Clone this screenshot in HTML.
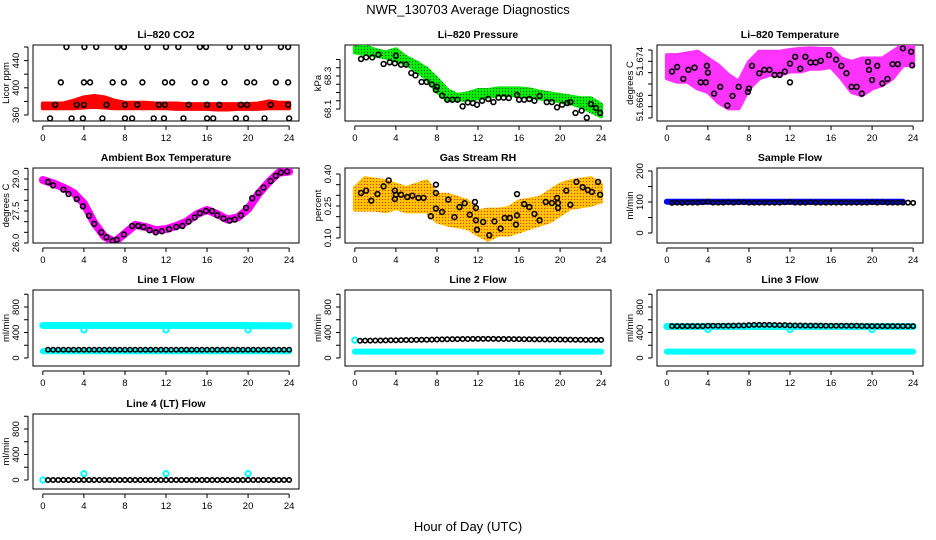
<!DOCTYPE html>
<html><head><meta charset="utf-8">
<style>
html,body{margin:0;padding:0;background:#fff;}
svg{display:block;font-family:"Liberation Sans",sans-serif;}
</style></head>
<body>
<svg id="chart" width="936" height="540" viewBox="0 0 936 540" xmlns="http://www.w3.org/2000/svg">
<defs>
<pattern id="pGreen" width="3" height="3" patternUnits="userSpaceOnUse"><rect width="3" height="3" fill="#00ee00"/><rect x="1" y="1" width="1" height="1" fill="#114411"/></pattern>
<pattern id="pOrange" width="3" height="3" patternUnits="userSpaceOnUse"><rect width="3" height="3" fill="#ffc400"/><rect x="1" y="1" width="1" height="1" fill="#ff2200"/></pattern>
</defs>
<text x="468" y="14" text-anchor="middle" font-size="13">NWR_130703  Average Diagnostics</text>
<text x="468" y="531" text-anchor="middle" font-size="13">Hour of Day (UTC)</text>
</svg>
<script>
// ---- shared time arrays ----
const hours = [0,1,2,3,4,5,6,7,8,9,10,11,12,13,14,15,16,17,18,19,20,21,22,23,24];
const halfHours = [0.5,1,1.5,2,2.5,3,3.5,4,4.5,5,5.5,6,6.5,7,7.5,8,8.5,9,9.5,10,10.5,11,11.5,12,12.5,13,13.5,14,14.5,15,15.5,16,16.5,17,17.5,18,18.5,19,19.5,20,20.5,21,21.5,22,22.5,23,23.5,24];
const xTicks = [0,4,8,12,16,20,24];

// ---- CO2 ----
const co2T = [2.3,4.05,5.2,7.3,7.9,10.2,12.0,13.2,15.3,15.9,18.2,19.9,21.1,23.2,23.9, 1.75,4.0,4.6,6.8,7.9,9.7,11.9,12.6,14.8,15.9,17.7,19.9,20.6,22.7,23.9, 1.2,3.3,4.0,6.2,8.0,9.2,11.3,11.9,14.2,16.0,17.2,19.3,19.9,22.2,23.9, 0.7,2.8,3.9,5.8,8.0,8.7,10.8,11.8,13.7,16.0,16.6,18.8,19.8,21.6,24.0];
const co2V = [460,460,460,460,460,460,460,460,460,460,460,460,460,460,460, 408,408,408,408,408,408,408,408,408,408,408,408,408,408,408, 375,375,375,375,375,375,375,375,375,375,375,375,375,375,375, 355,355,355,355,355,355,355,355,355,355,355,355,355,355,355];
const co2Hi = [377,377,377,381,386,388,386,381,378,378,378,377,377,377,376,376,376,376,376,376,376,377,380,378,378];
const co2Lo = [370,370,370,370,371,372,371,370,370,370,370,370,370,369,369,369,369,368,368,369,369,369,370,370,370];

// ---- Pressure ----
const presT = [0.6,1.1,1.7,2.3,2.8,3.4,3.9,4.0,4.5,5.0,5.5,5.9,6.5,7.0,7.5,7.9,8.0,8.5,9.0,9.5,10.0,10.5,11.0,11.5,11.9,12.4,13.0,13.5,14.0,14.5,15.0,15.8,16.0,16.5,17.0,17.5,18.0,18.7,19.2,19.7,20.2,20.7,21.0,21.5,22.1,22.6,23.0,23.5,23.9];
const presV = [68.403,68.413,68.413,68.429,68.373,68.383,68.377,68.423,68.369,68.369,68.318,68.304,68.264,68.264,68.249,68.215,68.235,68.181,68.156,68.156,68.156,68.116,68.140,68.136,68.126,68.150,68.161,68.142,68.169,68.169,68.167,68.185,68.156,68.156,68.161,68.150,68.179,68.142,68.142,68.110,68.126,68.136,68.142,68.076,68.090,68.047,68.130,68.106,68.076];
const presHi = [68.472,68.478,68.458,68.443,68.462,68.413,68.383,68.344,68.284,68.215,68.185,68.195,68.215,68.215,68.225,68.225,68.225,68.219,68.205,68.195,68.185,68.175,68.165,68.165,68.126];
const presLo = [68.443,68.433,68.423,68.413,68.393,68.373,68.334,68.284,68.205,68.156,68.156,68.156,68.165,68.175,68.185,68.185,68.181,68.175,68.165,68.156,68.146,68.136,68.116,68.086,68.056];

// ---- Li-820 Temperature ----
const tempT = [0.5,1.0,1.6,2.1,2.7,3.3,3.8,3.9,4.0,4.6,5.2,5.9,6.4,7.0,7.9,8.0,8.3,9.0,9.5,10.0,10.5,11.0,11.5,12.0,12.0,12.5,13.0,13.5,14.0,14.5,15.0,15.8,16.5,17.0,17.5,18.0,18.5,19.0,19.6,19.7,20.0,20.5,21.0,21.5,22.0,22.5,23.0,23.8,23.9];
const tempV = [51.6722,51.6730,51.6709,51.6725,51.6729,51.6703,51.6703,51.6732,51.6720,51.6683,51.6695,51.6662,51.6679,51.6695,51.6686,51.6692,51.6732,51.6719,51.6725,51.6725,51.6716,51.6716,51.6722,51.6736,51.6703,51.6748,51.6727,51.6748,51.6738,51.6738,51.6741,51.6751,51.6743,51.6732,51.6719,51.6695,51.6695,51.6683,51.6739,51.6725,51.6707,51.6732,51.6701,51.6709,51.6735,51.6735,51.6763,51.6757,51.6733];
const tempHi = [51.6751,51.6751,51.6754,51.6757,51.6745,51.6733,51.6716,51.6704,51.6739,51.6757,51.6757,51.6757,51.6760,51.6762,51.6763,51.6762,51.6762,51.6745,51.6739,51.6745,51.6745,51.6745,51.6757,51.6769,51.6766];
const tempLo = [51.6710,51.6704,51.6704,51.6692,51.6686,51.6668,51.6657,51.6657,51.6692,51.6710,51.6716,51.6716,51.6722,51.6722,51.6727,51.6727,51.6730,51.6710,51.6686,51.6680,51.6692,51.6698,51.6710,51.6733,51.6733];

// ---- Ambient box temperature ----
const ambT = [0.5,1,2,2.5,3.3,3.9,4.5,5,5.7,6.2,6.8,7.2,7.9,8.7,9.3,9.8,10.4,11,11.6,12.3,13,13.6,14.2,14.8,15.3,15.9,16.5,17,17.6,18.2,18.7,19.3,19.8,20.4,21,21.5,22.2,22.7,23.2,23.8];
const ambV = [28.86,28.7,28.5,28.3,28.06,27.72,27.28,26.9,26.5,26.27,26.1,26.15,26.4,26.8,26.8,26.75,26.6,26.5,26.55,26.65,26.75,26.8,27.0,27.2,27.4,27.5,27.5,27.3,27.15,27.05,27.1,27.3,27.65,28.1,28.35,28.6,28.9,29.15,29.3,29.35];
const ambLine = [28.95,28.8,28.6,28.35,27.85,26.95,26.3,26.05,26.45,26.85,26.75,26.6,26.65,26.8,27.0,27.35,27.55,27.35,27.1,27.2,27.6,28.3,28.85,29.3,29.35];

// ---- Gas stream RH ----
const rhT = [0.6,1.1,1.6,2.2,2.8,3.3,3.9,3.9,4.0,4.5,5.1,5.6,6.2,6.7,7.4,7.9,7.9,7.9,8.5,9.1,9.7,10.2,10.7,11.2,11.7,11.8,11.8,11.9,12.5,13.1,13.6,14.2,14.6,15.1,15.7,15.8,15.8,16.5,17.0,17.5,18.0,18.6,19.2,19.7,19.8,19.8,20.6,21.0,21.6,22.2,22.7,23.1,23.7,23.9];
const rhV = [0.311,0.322,0.275,0.306,0.342,0.370,0.322,0.283,0.303,0.303,0.292,0.298,0.288,0.288,0.202,0.350,0.311,0.238,0.222,0.280,0.198,0.245,0.263,0.209,0.269,0.241,0.183,0.139,0.175,0.113,0.178,0.144,0.194,0.194,0.163,0.206,0.306,0.259,0.245,0.213,0.183,0.269,0.264,0.288,0.264,0.241,0.322,0.256,0.363,0.338,0.325,0.316,0.363,0.303];
const rhHi = [0.334,0.381,0.373,0.366,0.35,0.334,0.35,0.366,0.303,0.303,0.288,0.272,0.225,0.233,0.233,0.241,0.272,0.280,0.288,0.319,0.35,0.366,0.373,0.381,0.35];
const rhLo = [0.233,0.233,0.233,0.225,0.241,0.225,0.225,0.225,0.178,0.163,0.155,0.147,0.116,0.092,0.116,0.116,0.131,0.147,0.163,0.178,0.209,0.241,0.248,0.256,0.272];

// ---- Sample flow ----
const sampleBand = [101,101,101,101,101,101,101,101,101,101,101,101,101,101,101,101,101,101,101,101,101,101,101,101,101];
const sampleV = [97,98,97,98,98,98,99,101,98,98,98,99,98,99,99,98,98,98,98,98,98,98,99,100,98,98,98,99,98,98,98,98,98,98,98,98,98,98,98,99,98,99,98,98,98,98,98,97];

// ---- Line flows ----
const line1Hi = [510,510,510,510,510,510,510,510,510,510,510,510,510,510,510,510,510,510,510,510,510,505,505,505,505];
const line1Lo = [105,105,105,105,105,105,105,105,105,105,105,105,105,105,105,105,105,105,105,105,105,105,105,105,105];
const line1V = [130,130,130,130,130,130,130,130,130,130,130,130,130,130,130,130,130,130,130,130,130,130,130,130,130,130,130,130,130,130,130,130,130,130,130,130,130,130,130,130,130,130,130,130,130,130,130,130];
const line1DipT = [4,12,20];
const line1DipV = [440,440,440];
const line2Lo = [100,100,100,100,100,100,100,100,100,100,100,100,100,100,100,100,100,100,100,100,100,100,100,100,100];
const line2V = [270,272,272,274,275,276,278,278,280,282,283,285,286,287,288,290,292,294,296,296,298,298,300,300,300,300,300,298,298,298,296,296,295,294,292,292,290,290,290,290,288,288,286,286,285,285,284,284];
const line2StartT = [0];
const line2StartV = [280];
const line3Hi = [495,495,495,495,495,495,495,495,495,495,495,495,495,495,495,495,495,495,495,495,495,495,495,495,495];
const line3Lo = [100,100,100,100,100,100,100,100,100,100,100,100,100,100,100,100,100,100,100,100,100,100,100,100,100];
const line3V = [500,500,500,500,500,500,500,505,505,505,505,505,508,510,510,515,520,520,520,520,518,515,515,512,510,510,508,508,508,508,505,505,505,505,505,505,505,502,502,500,500,500,500,500,500,500,500,500];
const line3DipT = [4,12,20];
const line3DipV = [445,445,445];
const line4V = [0,0,0,0,0,0,0,0,0,0,0,0,0,0,0,0,0,0,0,0,0,0,0,0,0,0,0,0,0,0,0,0,0,0,0,0,0,0,0,0,0,0,0,0,0,0,0,0];
const line4CyanT = [0,4,12,20];
const line4CyanV = [0,100,100,100];

// ---- rendering ----
const svg = document.getElementById('chart');
const NS = 'http://www.w3.org/2000/svg';
function mk(tag, attrs, parent) {
  const e = document.createElementNS(NS, tag);
  for (const k in attrs) e.setAttribute(k, attrs[k]);
  (parent || svg).appendChild(e);
  return e;
}
const cols = [[33,299],[345,611],[657,923]];
const rows = [[45,121],[168,243],[290,366],[414,489]];

function makePanel(name, title, ylab, c, r, yref, yTicks, yLabels) {
  const x0 = cols[c][0], x1 = cols[c][1], y0 = rows[r][0], y1 = rows[r][1];
  const g = mk('g', {});
  
  
  const sx = t => x0 + (x1 - x0) * (t + 0.96) / 25.92;
  const sy = v => yref[1] + (v - yref[0]) * (yref[3] - yref[1]) / (yref[2] - yref[0]);
  const box = mk('rect', {x: x0, y: y0, width: x1 - x0, height: y1 - y0, fill: 'none', stroke: '#000', 'stroke-width': 1}, g);
  
  
  const tt = mk('text', {x: (x0 + x1) / 2, y: y0 - 7, 'text-anchor': 'middle', 'font-size': 10.5, 'font-weight': 'bold'}, g);
  tt.textContent = title;
  
  
  // x axis
  const xa = mk('g', {}, g);
  
  
  const ay = y1 + 5;
  mk('line', {x1: sx(0), x2: sx(24), y1: ay, y2: ay, stroke: '#000'}, xa);
  xTicks.forEach(t => {
    mk('line', {x1: sx(t), x2: sx(t), y1: ay, y2: ay + 4, stroke: '#000'}, xa);
    const lb = mk('text', {x: sx(t), y: ay + 15, 'text-anchor': 'middle', 'font-size': 9.5}, xa);
    lb.textContent = t;
    
    
  });
  // y axis
  const ya = mk('g', {}, g);
  
  
  const ax = x0 - 5;
  mk('line', {x1: ax, x2: ax, y1: sy(yTicks[0]), y2: sy(yTicks[yTicks.length - 1]), stroke: '#000'}, ya);
  yTicks.forEach(v => mk('line', {x1: ax - 4, x2: ax, y1: sy(v), y2: sy(v), stroke: '#000'}, ya));
  yLabels.forEach(v => {
    const lx = ax - 9, ly = sy(v);
    const lb = mk('text', {x: lx, y: ly, 'text-anchor': 'middle', 'font-size': 9.5, transform: 'rotate(-90 ' + lx + ' ' + ly + ')'}, ya);
    lb.textContent = (typeof v === 'number' && yLabels.fmt) ? v.toFixed(yLabels.fmt) : v;
    
    
  });
  const yx = x0 - 24, yy = (y0 + y1) / 2;
  const yt = mk('text', {x: yx, y: yy, 'text-anchor': 'middle', 'font-size': 9.5, transform: 'rotate(-90 ' + yx + ' ' + yy + ')'}, g);
  yt.textContent = ylab;
  
  
  const clip = 'clip-' + name;
  const cp = mk('clipPath', {id: clip}, g);
  mk('rect', {x: x0, y: y0, width: x1 - x0, height: y1 - y0}, cp);
  const plot = mk('g', {'clip-path': 'url(#' + clip + ')'}, g);
  return {sx, sy, g: plot, name};
}

function band(p, ts, hi, lo, fill, label) {
  let pts = ts.map((t, i) => p.sx(t) + ',' + p.sy(hi[i]));
  for (let i = ts.length - 1; i >= 0; i--) pts.push(p.sx(ts[i]) + ',' + p.sy(lo[i]));
  const e = mk('polygon', {points: pts.join(' '), fill: fill, stroke: fill, 'stroke-width': 4, 'stroke-linejoin': 'round'}, p.g);
  
  
}
function thick(p, ts, vs, color, w, label) {
  const e = mk('polyline', {points: ts.map((t, i) => p.sx(t) + ',' + p.sy(vs[i])).join(' '), fill: 'none', stroke: color, 'stroke-width': w, 'stroke-linecap': 'round', 'stroke-linejoin': 'round'}, p.g);
  
  
}
function pts(p, ts, vs, color, label, r, sw) {
  const gg = mk('g', {}, p.g);
  
  
  ts.forEach((t, i) => {
    const c = mk('circle', {cx: p.sx(t), cy: p.sy(vs[i]), r: r || 2.4, fill: 'none', stroke: color, 'stroke-width': sw || 1.6}, gg);
    
    
  });
}

// CO2
let p = makePanel('co2', 'Li\u2013820 CO2', 'Licor ppm', 0, 0, [360,115,460,47], [360,380,400,420,440,460], [360,400,440]);
band(p, hours, co2Hi, co2Lo, '#ff0000', 'co2-band');
pts(p, co2T, co2V, '#000', 'co2-points');
// Pressure
const presLabels = [68.1, 68.3]; presLabels.fmt = 1;
p = makePanel('pressure', 'Li\u2013820 Pressure', 'kPa', 1, 0, [68.1,109,68.3,76], [68.1,68.15,68.2,68.25,68.3,68.35,68.4], presLabels);
band(p, hours, presHi, presLo, 'url(#pGreen)', 'pressure-band');
pts(p, presT, presV, '#000', 'pressure-points');
// Temperature
const tempLabels = [51.666, 51.674]; tempLabels.fmt = 3;
p = makePanel('li820-temp', 'Li\u2013820 Temperature', 'degrees C', 2, 0, [51.664,118,51.676,50], [51.664,51.666,51.668,51.670,51.672,51.674,51.676], tempLabels);
band(p, hours, tempHi, tempLo, '#ff33ff', 'temp-band');
pts(p, tempT, tempV, '#000', 'temp-points');
// Ambient
const ambLabels = [26.0, 27.5, 29.0]; ambLabels.fmt = 1;
p = makePanel('ambient', 'Ambient Box Temperature', 'degrees C', 0, 1, [26,243,29,179], [26,26.5,27,27.5,28,28.5,29,29.5], ambLabels);
thick(p, hours, ambLine, '#ff00ff', 8, 'ambient-band');
pts(p, ambT, ambV, '#000', 'ambient-points');
// RH
const rhLabels = [0.10, 0.25, 0.40]; rhLabels.fmt = 2;
p = makePanel('rh', 'Gas Stream RH', 'percent', 1, 1, [0.10,238,0.40,174], [0.10,0.15,0.20,0.25,0.30,0.35,0.40], rhLabels);
band(p, hours, rhHi, rhLo, 'url(#pOrange)', 'rh-band');
pts(p, rhT, rhV, '#000', 'rh-points');
// Sample flow
p = makePanel('sample-flow', 'Sample Flow', 'ml/min', 2, 1, [0,233,200,171], [0,50,100,150,200], [0,100,200]);
thick(p, hours.slice(0, 24), sampleBand.slice(0, 24), '#0000ff', 6, 'sample-band');
pts(p, halfHours, sampleV, '#000', 'sample-points', 2.2);
// Line 1
const flowTicks = [0,200,400,600,800,1000];
p = makePanel('line1', 'Line 1 Flow', 'ml/min', 0, 2, [0,358,800,307], flowTicks, [0,400,800]);
thick(p, hours, line1Hi, '#00ffff', 7, 'cyan-high');
thick(p, hours, line1Lo, '#00ffff', 6, 'cyan-low');
pts(p, line1DipT, line1DipV, '#00ffff', 'cyan-dips', 2.6, 2);
pts(p, halfHours, line1V, '#000', 'black-points', 2.2);
// Line 2
p = makePanel('line2', 'Line 2 Flow', 'ml/min', 1, 2, [0,358,800,307], flowTicks, [0,400,800]);
thick(p, hours, line2Lo, '#00ffff', 6, 'cyan-low');
pts(p, line2StartT, line2StartV, '#00ffff', 'cyan-start', 2.6, 2);
pts(p, halfHours, line2V, '#000', 'black-points', 2.2);
// Line 3
p = makePanel('line3', 'Line 3 Flow', 'ml/min', 2, 2, [0,358,800,307], flowTicks, [0,400,800]);
thick(p, hours, line3Hi, '#00ffff', 7, 'cyan-high');
thick(p, hours, line3Lo, '#00ffff', 6, 'cyan-low');
pts(p, line3DipT, line3DipV, '#00ffff', 'cyan-dips', 2.6, 2);
pts(p, halfHours, line3V, '#000', 'black-points', 2.2);
// Line 4
p = makePanel('line4', 'Line 4 (LT) Flow', 'ml/min', 0, 3, [0,480,800,429], flowTicks, [0,400,800]);
pts(p, line4CyanT, line4CyanV, '#00ffff', 'cyan-points', 2.6, 2);
pts(p, halfHours, line4V, '#000', 'black-points', 2.2);
</script>
</body></html>
